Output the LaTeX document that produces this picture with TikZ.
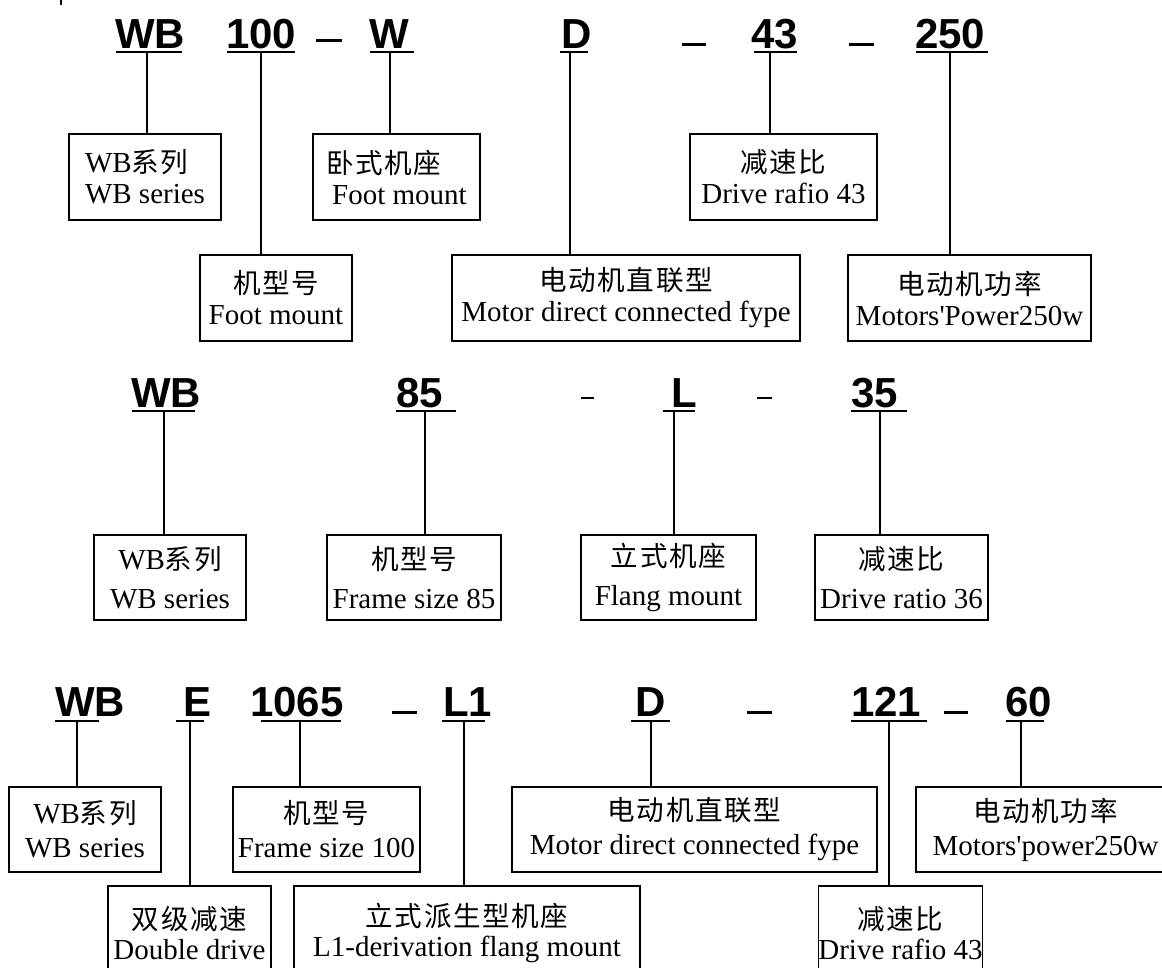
\documentclass[tikz,border=0pt]{standalone}
\usepackage{fontspec}
\usepackage{graphicx}
\setmainfont{Liberation Serif}
\newfontfamily\hdrfam{Liberation Sans}
\newfontfamily\cjkfam[LetterSpace=6,Scale=0.95]{Noto Sans CJK SC}
\newcommand\myzh[1]{{\cjkfam #1}}
\tikzset{
  hdr/.style={anchor=base west, inner sep=0pt, font=\hdrfam\bfseries\fontsize{42}{42}\selectfont},
  bx/.style={draw, line width=1.3pt, inner sep=0pt, minimum height=86pt, align=center,
             font=\fontsize{29}{31}\selectfont},
  bxtall/.style={bx, minimum height=85pt, font=\fontsize{29}{39}\selectfont},
  ln/.style={line width=1.1pt},
  ul/.style={line width=1.6pt},
}
\begin{document}
\begin{tikzpicture}[x=1pt,y=-1pt]
\useasboundingbox (0,0) rectangle (1162,967);
\clip (0,0) rectangle (1162,967);
\draw[line width=2pt] (61,0) -- (61,5);

% ---------- Row 1 ----------
\node[hdr] (hA1) at (115,48) {WB};
\node[hdr] (hA2) at (226,48) {100};
\node[hdr] (hA3) at (369,48) {W};
\node[hdr] (hA4) at (561,48) {D};
\node[hdr] (hA5) at (751,48) {43};
\node[hdr] (hA6) at (915,48) {250};
\draw[ul] (116,52) -- (182,52);
\draw[ul] (227,52) -- (295,52);
\draw[ul] (370,52) -- (414,52);
\draw[ul] (560,52) -- (588,52);
\draw[ul] (754,52) -- (797,52);
\draw[ul] (916,52) -- (988,52);
\fill (316,38.5) rectangle (342,41.5);
\fill (682,42.5) rectangle (706,45.5);
\fill (849,42.5) rectangle (874,45.5);

\node[bx, minimum width=152pt, align=left] (A1) at (145,177) {WB\myzh{系列}\\WB series};
\node[bx, minimum width=152pt] (A2) at (276,298) {\myzh{机型号}\\Foot mount};
\node[bx, minimum width=167pt, align=left] (A3) at (396.5,177) {\myzh{卧式机座}\\\hspace*{6pt}Foot mount};
\node[bx, minimum width=348pt] (A4) at (626,298) {\myzh{电动机直联型}\\Motor direct connected fype};
\node[bx, minimum width=187pt] (A5) at (783.5,177) {\myzh{减速比}\\Drive rafio 43};
\node[bx, minimum width=243pt] (A6) at (969.5,298) {\myzh{电动机功率}\\Motors\textquotesingle Power250w};

\coordinate (uA1) at (147,52);
\coordinate (uA2) at (261,52);
\coordinate (uA3) at (390,52);
\coordinate (uA4) at (570,52);
\coordinate (uA5) at (770,52);
\coordinate (uA6) at (950,52);
\draw[ln] (uA1) -- (uA1 |- A1.north);
\draw[ln] (uA2) -- (uA2 |- A2.north);
\draw[ln] (uA3) -- (uA3 |- A3.north);
\draw[ln] (uA4) -- (uA4 |- A4.north);
\draw[ln] (uA5) -- (uA5 |- A5.north);
\draw[ln] (uA6) -- (uA6 |- A6.north);

% ---------- Row 2 ----------
\node[hdr] (hB1) at (131,407) {WB};
\node[hdr] (hB2) at (396,407) {85};
\node[hdr] (hB3) at (671,407) {L};
\node[hdr] (hB4) at (851,407) {35};
\draw[ul] (132,411) -- (195,411);
\draw[ul] (396,411) -- (456,411);
\draw[ul] (663,411) -- (695,411);
\draw[ul] (851,411) -- (907,411);
\fill (581,397) rectangle (594,399);
\fill (757,397) rectangle (772,399);

\node[bxtall, minimum width=152pt] (B1) at (170,577.5) {WB\myzh{系列}\\WB series};
\node[bxtall, minimum width=174pt] (B2) at (414,577.5) {\myzh{机型号}\\Frame size 85};
\node[bxtall, minimum width=175pt] (B3) at (668.5,577.5) {\myzh{立式机座}\\Flang mount};
\node[bxtall, minimum width=173pt] (B4) at (901.5,577.5) {\myzh{减速比}\\Drive ratio 36};

\coordinate (uB1) at (164,411);
\coordinate (uB2) at (425,411);
\coordinate (uB3) at (674,411);
\coordinate (uB4) at (880,411);
\draw[ln] (uB1) -- (uB1 |- B1.north);
\draw[ln] (uB2) -- (uB2 |- B2.north);
\draw[ln] (uB3) -- (uB3 |- B3.north);
\draw[ln] (uB4) -- (uB4 |- B4.north);

% ---------- Row 3 ----------
\node[hdr] (hC1) at (55,716) {WB};
\node[hdr] (hC2) at (183,716) {E};
\node[hdr] (hC3) at (250,716) {1065};
\node[hdr] (hC4) at (443,716) {L1};
\node[hdr] (hC5) at (635,716) {D};
\node[hdr] (hC6) at (851,716) {121};
\node[hdr] (hC7) at (1005,716) {60};
\draw[ul] (55,721) -- (99,721);
\draw[ul] (176,721) -- (204,721);
\draw[ul] (261,721) -- (341,721);
\draw[ul] (442,721) -- (485,721);
\draw[ul] (631,721) -- (670,721);
\draw[ul] (851,721) -- (927,721);
\draw[ul] (1006,721) -- (1044,721);
\fill (392,710.5) rectangle (417,713.5);
\fill (747,710.5) rectangle (772,713.5);
\fill (944,710.5) rectangle (968,713.5);

\node[bx, minimum width=152pt, minimum height=85pt, font=\fontsize{29}{34}\selectfont] (C1) at (85,829.5) {WB\myzh{系列}\\WB series};
\node[bx, minimum width=187pt, minimum height=85pt, font=\fontsize{29}{34}\selectfont] (C3) at (326.5,829.5) {\myzh{机型号}\\Frame size 100};
\node[bx, minimum width=365pt, minimum height=85pt, font=\fontsize{29}{34}\selectfont] (C5) at (694.5,829.5) {\myzh{电动机直联型}\\Motor direct connected fype};
\node[bx, minimum width=259pt, minimum height=85pt, font=\fontsize{29}{34}\selectfont] (C7) at (1045.5,829.5) {\myzh{电动机功率}\\Motors\textquotesingle power250w};
\node[bx, minimum width=163pt, minimum height=94pt, font=\fontsize{29}{30}\selectfont] (C2) at (189.5,933) {\myzh{双级减速}\\Double drive};
\node[bx, minimum width=346pt, minimum height=94pt, font=\fontsize{29}{30}\selectfont] (C4) at (467,933) {\myzh{立式派生型机座}\\L1-derivation flang mount};
\node[bx, minimum width=163pt, minimum height=94pt, font=\fontsize{29}{30}\selectfont] (C6) at (900.5,933) {\myzh{减速比}\\Drive rafio 43};

\coordinate (uC1) at (77,721);
\coordinate (uC2) at (190,721);
\coordinate (uC3) at (300,721);
\coordinate (uC4) at (464,721);
\coordinate (uC5) at (651,721);
\coordinate (uC6) at (889,721);
\coordinate (uC7) at (1021,721);
\draw[ln] (uC1) -- (uC1 |- C1.north);
\draw[ln] (uC2) -- (uC2 |- C2.north);
\draw[ln] (uC3) -- (uC3 |- C3.north);
\draw[ln] (uC4) -- (uC4 |- C4.north);
\draw[ln] (uC5) -- (uC5 |- C5.north);
\draw[ln] (uC6) -- (uC6 |- C6.north);
\draw[ln] (uC7) -- (uC7 |- C7.north);
\end{tikzpicture}
\end{document}
